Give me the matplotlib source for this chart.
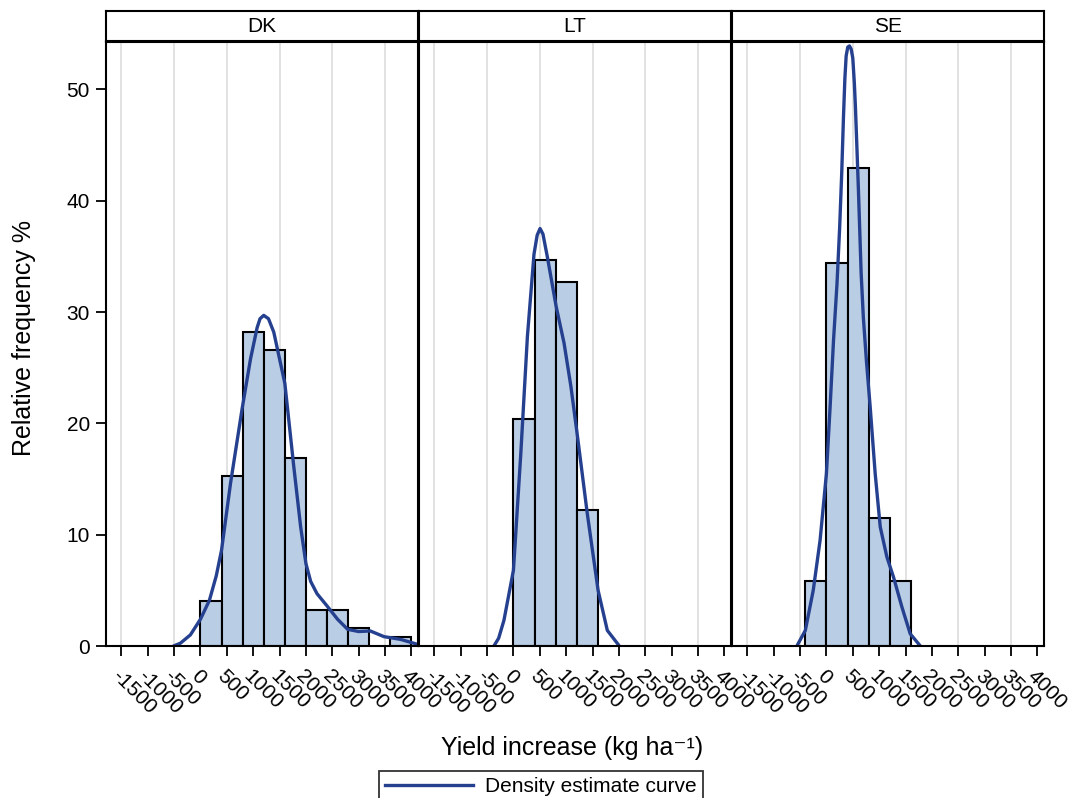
import matplotlib
matplotlib.use('Agg')
import matplotlib.pyplot as plt

plt.rcParams['font.family'] = ['Liberation Sans', 'DejaVu Sans']

# ---------------- data ----------------
groups = ['DK', 'LT', 'SE']
bin_width = 400

dk_bin_left = [0, 400, 800, 1200, 1600, 2000, 2400, 2800, 3200, 3600]
dk_freq = [4.0, 15.3, 28.2, 26.6, 16.9, 3.2, 3.2, 1.6, 0.0, 0.8]

lt_bin_left = [0, 400, 800, 1200]
lt_freq = [20.4, 34.7, 32.7, 12.2]

se_bin_left = [-400, 0, 400, 800, 1200]
se_freq = [5.8, 34.4, 42.9, 11.5, 5.8]

dk_kde_x = [-510, -380, -190, 0, 170, 300, 400, 570, 790, 950, 1075, 1130, 1200,
            1290, 1390, 1600, 1770, 1900, 2000, 2090, 2210, 2400, 2600, 2790, 3000,
            3220, 3480, 3790, 4050, 4180]
dk_kde_y = [0.0, 0.25, 1.0, 2.4, 4.1, 6.3, 8.6, 14.6, 21.3, 25.8, 28.6, 29.4, 29.7,
            29.4, 28.2, 23.6, 16.1, 10.7, 7.4, 5.8, 4.7, 3.6, 2.4, 1.5, 1.3,
            1.35, 0.84, 0.6, 0.24, 0.05]

lt_kde_x = [-370, -280, -180, 0, 140, 265, 390, 450, 505, 560, 645, 810, 960, 1090,
            1215, 1400, 1605, 1780, 2000]
lt_kde_y = [0.0, 0.7, 2.3, 6.8, 17.3, 27.8, 35.2, 36.9, 37.5, 37.0, 34.9, 30.5, 27.2,
            23.3, 18.8, 11.9, 5.0, 1.4, 0.05]

se_kde_x = [-560, -400, -250, -120, 0, 70, 135, 200, 250, 290, 323, 350, 374, 405,
            437, 470, 500, 530, 550, 580, 607, 658, 700, 760, 829, 924, 1020, 1146,
            1271, 1431, 1588, 1780]
se_kde_y = [0.0, 1.4, 5.0, 9.5, 15.5, 21.5, 27.5, 32.5, 37.5, 42.5, 47.5, 51.0, 53.0,
            53.8, 53.9, 53.6, 52.8, 50.5, 48.4, 44.5, 40.9, 33.5, 29.5, 25.5, 21.5,
            15.5, 10.7, 8.0, 6.2, 3.5, 1.1, 0.0]

x_ticks = [-1500, -1000, -500, 0, 500, 1000, 1500, 2000, 2500, 3000, 3500, 4000]
x_tick_labels = ['-1500', '-1000', '-500', '0', '500', '1000', '1500', '2000',
                 '2500', '3000', '3500', '4000']
grid_x = [-1500, -500, 500, 1500, 2500, 3500]
y_ticks = [0, 10, 20, 30, 40, 50]

bins = {'DK': dk_bin_left, 'LT': lt_bin_left, 'SE': se_bin_left}
freqs = {'DK': dk_freq, 'LT': lt_freq, 'SE': se_freq}
kdes = {'DK': (dk_kde_x, dk_kde_y), 'LT': (lt_kde_x, lt_kde_y), 'SE': (se_kde_x, se_kde_y)}

# ---------------- style ----------------
W, H = 1068, 798
bar_color = '#b9cde5'
curve_color = '#25408f'
grid_color = '#dddddd'
tick_fs = 15
label_fs = 18
spine_lw = 1.5

fig = plt.figure(figsize=(W / 100, H / 100), dpi=100)

panel_left = [106, 419, 732]
panel_w = 311.5
plot_top, plot_bottom = 41.5, 646
strip_top, strip_bottom = 11, 40.5

axes = []
for i, g in enumerate(groups):
    l = panel_left[i]
    ax = fig.add_axes([l / W, (H - plot_bottom) / H, panel_w / W,
                       (plot_bottom - plot_top) / H])
    axes.append(ax)
    ax.set_xlim(-1790, 4115)
    ax.set_ylim(0, 54.3)
    for gx in grid_x:
        ax.axvline(gx, color=grid_color, lw=1.2, zorder=0)
    b = [x for x, f in zip(bins[g], freqs[g]) if f > 0]
    f = [f for f in freqs[g] if f > 0]
    ax.bar(b, f, width=bin_width, align='edge', color=bar_color,
           edgecolor='black', linewidth=1.5, zorder=2)
    kx, ky = kdes[g]
    ax.plot(kx, ky, color=curve_color, lw=2.4, solid_joinstyle='round',
            solid_capstyle='round', zorder=3)
    for s in ax.spines.values():
        s.set_linewidth(spine_lw)
        s.set_zorder(5)
    ax.set_xticks(x_ticks)
    ax.set_xticklabels(x_tick_labels, rotation=-45, ha='left', va='top',
                       rotation_mode='anchor', fontsize=tick_fs)
    ax.tick_params(axis='x', direction='out', length=7.5, width=1.3, pad=7)
    if i == 0:
        ax.set_yticks(y_ticks)
        ax.set_yticklabels([str(v) for v in y_ticks], fontsize=tick_fs)
        ax.tick_params(axis='y', direction='out', length=7.5, width=1.3, pad=4)
    else:
        ax.set_yticks(y_ticks)
        ax.tick_params(axis='y', left=False, labelleft=False)

    hax = fig.add_axes([l / W, (H - strip_bottom) / H, panel_w / W,
                        (strip_bottom - strip_top) / H])
    hax.set_xticks([])
    hax.set_yticks([])
    for s in hax.spines.values():
        s.set_linewidth(spine_lw)
    hax.text(0.5, 0.47, g, ha='center', va='center', fontsize=tick_fs,
             transform=hax.transAxes)

fig.text(24 / W, 1 - 338 / H, 'Relative frequency %', rotation=90,
         ha='center', va='center', fontsize=label_fs)
fig.text(572 / W, 1 - 748 / H, 'Yield increase (kg ha\u207b\u00b9)',
         ha='center', va='center', fontsize=label_fs)

handle, = axes[0].plot([], [], color=curve_color, lw=2.4)
leg = fig.legend([handle], ['Density estimate curve'], loc='upper center',
                 bbox_to_anchor=(541 / W, 1 - 771 / H), fontsize=tick_fs,
                 frameon=True, fancybox=False, handlelength=4.2,
                 handletextpad=0.6, borderpad=0.3, borderaxespad=0)
leg.get_frame().set_edgecolor('black')
leg.get_frame().set_linewidth(1.3)

fig.savefig('out.png', dpi=100)
